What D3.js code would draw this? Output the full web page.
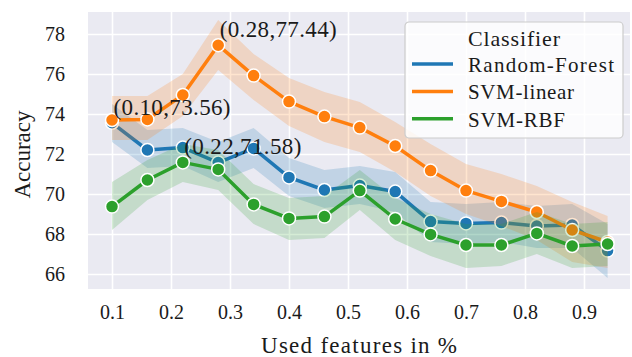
<!DOCTYPE html>
<html>
<head>
<meta charset="utf-8">
<script src="https://cdn.jsdelivr.net/npm/d3@7"></script>
<style>
  body { margin: 0; background: #fff; }
</style>
</head>
<body>
<svg id="chart" width="632" height="357"></svg>
<script>
// data
var features = [0.10, 0.16, 0.22, 0.28, 0.34, 0.40, 0.46, 0.52, 0.58, 0.64, 0.70, 0.76, 0.82, 0.88, 0.94];
var classifiers = ["Random-Forest", "SVM-linear", "SVM-RBF"];
var colors = ["#1f77b4", "#ff7f0e", "#2ca02c"];

var rfMean  = [73.56, 72.20, 72.32, 71.57, 72.28, 70.83, 70.20, 70.42, 70.12, 68.62, 68.53, 68.57, 68.40, 68.45, 67.17];
var rfLow   = [72.60, 71.30, 71.40, 70.60, 71.30, 69.90, 69.30, 69.50, 69.10, 67.60, 67.50, 67.60, 67.30, 67.30, 65.80];
var rfHigh  = [74.50, 73.20, 73.30, 72.60, 73.30, 71.80, 71.20, 71.40, 71.10, 69.60, 69.50, 69.60, 69.40, 69.50, 68.50];

var linMean = [73.70, 73.73, 74.95, 77.44, 75.92, 74.62, 73.87, 73.32, 72.40, 71.17, 70.17, 69.63, 69.10, 68.20, 67.60];
var linLow  = [72.70, 72.70, 73.90, 76.20, 74.70, 73.40, 72.60, 72.10, 71.10, 69.90, 69.00, 68.40, 67.70, 66.60, 66.30];
var linHigh = [74.90, 74.90, 76.00, 78.70, 77.00, 75.80, 75.10, 74.60, 73.60, 72.50, 71.50, 71.00, 70.40, 69.60, 68.90];

var rbfMean = [69.37, 70.70, 71.58, 71.23, 69.48, 68.78, 68.87, 70.17, 68.75, 67.98, 67.45, 67.45, 68.03, 67.40, 67.50];
var rbfLow  = [68.20, 69.70, 70.60, 70.20, 68.50, 67.70, 67.80, 69.20, 67.70, 66.90, 66.30, 66.40, 67.00, 66.30, 66.40];
var rbfHigh = [70.60, 71.70, 72.50, 72.20, 70.50, 69.80, 69.90, 71.20, 69.80, 69.00, 68.50, 68.50, 69.10, 68.50, 68.60];

var xTicks = [0.1, 0.2, 0.3, 0.4, 0.5, 0.6, 0.7, 0.8, 0.9];
var yTicks = [66, 68, 70, 72, 74, 76, 78];

var means = [rfMean, linMean, rbfMean];
var lows = [rfLow, linLow, rbfLow];
var highs = [rfHigh, linHigh, rbfHigh];

var serif = "'Liberation Serif', 'Times New Roman', 'DejaVu Serif', serif";

var svg = d3.select("#chart");
var plot = {left: 88, right: 630, top: 12, bottom: 289};

var x = d3.scaleLinear().domain([0.0593, 0.978]).range([plot.left, plot.right]);
var y = d3.scaleLinear().domain([65.25, 79.1]).range([plot.bottom, plot.top]);

// background + grid
svg.append("rect")
    .attr("x", plot.left).attr("y", plot.top)
    .attr("width", plot.right - plot.left).attr("height", plot.bottom - plot.top)
    .attr("fill", "#eaeaf2");

svg.append("g")
    .attr("transform", "translate(0," + plot.bottom + ")")
    .call(d3.axisBottom(x).tickValues(xTicks).tickSize(-(plot.bottom - plot.top)).tickFormat(d3.format(".1f")).tickPadding(16))
    .call(function(g) {
        g.select(".domain").remove();
        g.selectAll("line").attr("stroke", "#fff").attr("stroke-width", 1.6);
        g.selectAll("text").style("font-size", "20px").style("fill", "#1a1a1a").style("font-family", serif);
    });

svg.append("g")
    .attr("transform", "translate(" + plot.left + ",0)")
    .call(d3.axisLeft(y).tickValues(yTicks).tickSize(-(plot.right - plot.left)).tickPadding(23))
    .call(function(g) {
        g.select(".domain").remove();
        g.selectAll("line").attr("stroke", "#fff").attr("stroke-width", 1.6);
        g.selectAll("text").style("font-size", "20px").style("fill", "#1a1a1a").style("font-family", serif);
    });

// bands, lines, markers (one classifier after the other)
var area = d3.area()
    .x(function(d) { return x(d.f); })
    .y0(function(d) { return y(d.lo); })
    .y1(function(d) { return y(d.hi); });
var line = d3.line()
    .x(function(d) { return x(d.f); })
    .y(function(d) { return y(d.v); });

for (var k = 0; k < classifiers.length; k++) {
    var rows = features.map(function(f, i) {
        return {f: f, v: means[k][i], lo: lows[k][i], hi: highs[k][i]};
    });
    var g = svg.append("g");
    g.append("path").datum(rows)
        .attr("d", area)
        .attr("fill", colors[k])
        .attr("fill-opacity", 0.2);
    g.append("path").datum(rows)
        .attr("d", line)
        .attr("fill", "none")
        .attr("stroke", colors[k])
        .attr("stroke-width", 3.5)
        .attr("stroke-linejoin", "round");
    g.selectAll("circle").data(rows).enter()
        .append("circle")
        .attr("cx", function(d) { return x(d.f); })
        .attr("cy", function(d) { return y(d.v); })
        .attr("r", 6.5)
        .attr("fill", colors[k])
        .attr("stroke", "#fff")
        .attr("stroke-width", 1.5);
}

function label(sel, size) {
    return sel.style("font-family", serif).style("font-size", size + "px").style("fill", "#1a1a1a");
}

// max annotations
for (var k = 0; k < classifiers.length; k++) {
    var idx = d3.maxIndex(means[k]);
    var f = features[idx], v = means[k][idx];
    label(svg.append("text"), 23)
        .attr("x", x(f) + 1.5)
        .attr("y", y(v) - 8)
        .attr("textLength", 117)
        .text("(" + f.toFixed(2) + "," + v.toFixed(2) + ")");
}

// axis labels
label(svg.append("text"), 23)
    .attr("x", (plot.left + plot.right) / 2)
    .attr("y", 353)
    .attr("text-anchor", "middle")
    .attr("textLength", 196)
    .text("Used features in %");

label(svg.append("text"), 23)
    .attr("transform", "translate(30," + ((plot.top + plot.bottom) / 2 + 4) + ") rotate(-90)")
    .attr("text-anchor", "middle")
    .attr("textLength", 88)
    .text("Accuracy");

// legend
var leg = svg.append("g").attr("transform", "translate(405,22)");
leg.append("rect")
    .attr("width", 218).attr("height", 116)
    .attr("rx", 4)
    .attr("fill", "#fff").attr("fill-opacity", 0.8)
    .attr("stroke", "#cccccc").attr("stroke-width", 1.2);
label(leg.append("text"), 22)
    .attr("x", 109).attr("y", 24)
    .attr("text-anchor", "middle")
    .attr("textLength", 92)
    .text("Classifier");
var legWidths = [146, 106, 97];
classifiers.forEach(function(c, i) {
    var yy = 42 + i * 27.4;
    leg.append("line")
        .attr("x1", 7).attr("x2", 48)
        .attr("y1", yy).attr("y2", yy)
        .attr("stroke", colors[i]).attr("stroke-width", 3.5);
    label(leg.append("text"), 21)
        .attr("x", 63).attr("y", yy + 8)
        .attr("textLength", legWidths[i])
        .text(c);
});
</script>
</body>
</html>
